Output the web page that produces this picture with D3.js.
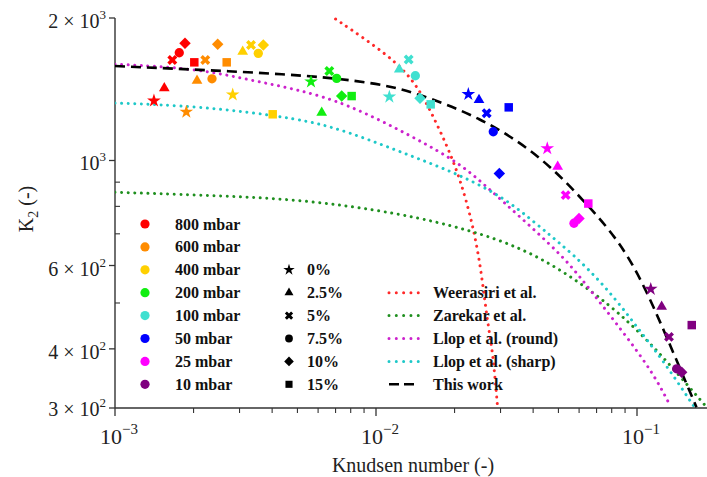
<!DOCTYPE html>
<html><head><meta charset="utf-8">
<script src="https://cdn.jsdelivr.net/npm/d3@7"></script>
<style>
html,body{margin:0;padding:0;background:#fff;}
svg{display:block;font-family:"Liberation Serif","Times New Roman",serif;}
</style></head>
<body><svg id="chart" width="707" height="477"></svg>
<script>
// ---------------- data ----------------
const pressures = ["800 mbar","600 mbar","400 mbar","200 mbar","100 mbar","50 mbar","25 mbar","10 mbar"];
const humidities = ["0%","2.5%","5%","7.5%","10%","15%"];
// each measured array is in humidity order: 0%, 2.5%, 5%, 7.5%, 10%, 15%
const kn800 = [0.001410,0.001545,0.001658,0.001763,0.001854,0.002013];
const k2_800 = [1337,1421,1630,1689,1768,1612];
const kn600 = [0.001876,0.002062,0.002218,0.002353,0.002474,0.002679];
const k2_600 = [1266,1474,1630,1488,1760,1612];
const kn400 = [0.002825,0.003085,0.003320,0.003540,0.003700,0.004020];
const k2_400 = [1377,1698,1754,1684,1754,1252];
const kn200 = [0.005637,0.006194,0.006625,0.007068,0.007387,0.008067];
const k2_200 = [1467,1262,1545,1491,1368,1368];
const kn100 = [0.01125,0.01228,0.01334,0.01415,0.01474,0.01620];
const k2_100 = [1363,1558,1635,1510,1353,1314];
const kn50 = [0.02258,0.02481,0.02655,0.02814,0.02968,0.03225];
const k2_50 = [1380,1342,1258,1150,939,1295];
const kn25 = [0.04531,0.04967,0.05330,0.05735,0.05995,0.06508];
const k2_25 = [1060,970,845,737,754,811];
const kn10 = [0.1129,0.1243,0.1326,0.1419,0.1483,0.1621];
const k2_10 = [535,491,424,363,357,449];

const curveNames = ["Weerasiri et al.","Zarekar et al.","Llop et al. (round)","Llop et al. (sharp)","This work"];
const weerasiriKn = [0.00700,0.01132,0.01432,0.01708,0.01978,0.02226,0.02487,0.02669,0.02799,0.02925];
const weerasiriK2 = [1990,1662,1455,1198,1002,824,634,456,397,300];
const zarekarKn = [0.001,0.002117,0.005113,0.01236,0.02292,0.03626,0.05378,0.07879,0.1054,0.1374,0.1822];
const zarekarK2 = [857,845,829,774,713,653,578,495,427,364,304];
const llopRoundKn = [0.001,0.002056,0.003291,0.004968,0.007722,0.0139,0.02098,0.02655,0.03562,0.0507,0.06047,0.07429,0.09131,0.1155,0.1338];
const llopRoundK2 = [1598,1565,1479,1414,1320,1122,986,880,760,636,568,491,424,355,304];
const llopSharpKn = [0.001,0.002117,0.005113,0.007722,0.0139,0.02038,0.03073,0.04175,0.0507,0.06417,0.08358,0.1027,0.1259,0.1596,0.1668];
const llopSharpK2 = [1322,1303,1227,1154,1018,939,838,730,668,596,507,436,378,311,300];
const thisWorkKn = [0.001,0.005113,0.01,0.01386,0.025,0.0425,0.06417,0.094,0.13,0.169];
const thisWorkK2 = [1583,1522,1458,1397,1237,1027,811,637,424,301];

const xMajorTicks = [0.001,0.01,0.1];
const xTickExp = ["\u22123","\u22122","\u22121"];
const yLabelTicks = [300,400,600,1000,2000];
const yTickMant = ["3 \u00d7 10","4 \u00d7 10","6 \u00d7 10","10","2 \u00d7 10"];
const yTickExp = ["2","2","2","3","3"];

// ---------------- styles ----------------
const pressureColors = ["#ff0000","#ff8c00","#ffd000","#11ee11","#40e0d0","#0000ff","#ff00ff","#800080"];
const curveColors = ["#ff2a2a","#1f8f1f","#cc22cc","#1ec8c8","#000000"];
const symbolTypes = [d3.symbolStar,d3.symbolTriangle,d3.symbolCross,d3.symbolCircle,d3.symbolSquare,d3.symbolSquare];
const symbolRot = [0,0,45,0,45,0];
const symbolSizes = [58,50,62,68,66,72];

const measured = [[kn800,k2_800],[kn600,k2_600],[kn400,k2_400],[kn200,k2_200],[kn100,k2_100],[kn50,k2_50],[kn25,k2_25],[kn10,k2_10]];
const curves = [[weerasiriKn,weerasiriK2],[zarekarKn,zarekarK2],[llopRoundKn,llopRoundK2],[llopSharpKn,llopSharpK2],[thisWorkKn,thisWorkK2]];

const svg = d3.select("#chart");
const mLeft = 115, mTop = 18, mBottom = 408, mRight = 707;
const x = d3.scaleLog().domain([1e-3,0.2]).range([mLeft, mLeft + 261*Math.log10(200)]);
const y = d3.scaleLog().domain([300,2000]).range([mBottom, mTop]);

svg.append("defs").append("clipPath").attr("id","plot")
  .append("rect").attr("x",mLeft).attr("y",mTop-2).attr("width",mRight-mLeft).attr("height",mBottom-mTop+2);

// axes
const axisColor = "#333";
svg.append("line").attr("x1",mLeft).attr("x2",mRight).attr("y1",mBottom).attr("y2",mBottom)
  .attr("stroke",axisColor).attr("stroke-width",1.4);
svg.append("line").attr("x1",mLeft).attr("x2",mLeft).attr("y1",mTop).attr("y2",mBottom)
  .attr("stroke",axisColor).attr("stroke-width",1.4);

// x ticks
const xMinor = [];
[0.001,0.01,0.1].forEach(d=>{for(let m=2;m<=9;m++){const v=d*m; if(v<=0.2) xMinor.push(v);}});
svg.selectAll(".xminor").data(xMinor).enter().append("line")
  .attr("x1",d=>x(d)).attr("x2",d=>x(d)).attr("y1",mBottom).attr("y2",mBottom+5)
  .attr("stroke",axisColor).attr("stroke-width",1.1);
svg.selectAll(".xmajor").data(xMajorTicks).enter().append("line")
  .attr("x1",d=>x(d)).attr("x2",d=>x(d)).attr("y1",mBottom).attr("y2",mBottom+8)
  .attr("stroke",axisColor).attr("stroke-width",1.3);
const xt = svg.selectAll(".xlab").data(xMajorTicks).enter().append("text")
  .attr("x",d=>x(d)+4).attr("y",mBottom+36).attr("text-anchor","middle")
  .attr("font-size",22).attr("fill","#222");
xt.append("tspan").text("10");
xt.append("tspan").attr("dy",-10).attr("font-size",15).text((d,i)=>xTickExp[i]);

// y ticks
const yMinor = [500,700,800,900];
svg.selectAll(".yminor").data(yMinor).enter().append("line")
  .attr("x1",mLeft).attr("x2",mLeft+5).attr("y1",d=>y(d)).attr("y2",d=>y(d))
  .attr("stroke",axisColor).attr("stroke-width",1.1);
svg.selectAll(".ymajor").data(yLabelTicks).enter().append("line")
  .attr("x1",mLeft-6).attr("x2",mLeft).attr("y1",d=>y(d)).attr("y2",d=>y(d))
  .attr("stroke",axisColor).attr("stroke-width",1.3);
const yt = svg.selectAll(".ylab").data(yLabelTicks).enter().append("text")
  .attr("x",mLeft-9).attr("y",(d,i)=>y(d)+(i===0?8:10)).attr("text-anchor","end")
  .attr("font-size",20).attr("fill","#222");
yt.append("tspan").text((d,i)=>yTickMant[i]);
yt.append("tspan").attr("dy",-9).attr("font-size",13).text((d,i)=>yTickExp[i]);

// axis titles
svg.append("text").attr("x",413).attr("y",472).attr("text-anchor","middle")
  .attr("font-size",20).attr("fill","#222").text("Knudsen number (-)");
const yTitle = svg.append("text").attr("transform","translate(33,209) rotate(-90)")
  .attr("text-anchor","middle").attr("font-size",20).attr("fill","#222");
yTitle.append("tspan").text("K");
yTitle.append("tspan").attr("dy",5).attr("font-size",14).text("2");
yTitle.append("tspan").attr("dy",-5).text(" (-)");

// model curves
const line = d3.line().x(d=>x(d[0])).y(d=>y(d[1])).curve(d3.curveBasis);
const gCurves = svg.append("g").attr("clip-path","url(#plot)");
curves.forEach((c,i)=>{
  const pts = c[0].map((k,j)=>[k,c[1][j]]);
  const p = gCurves.append("path").attr("d",line(pts)).attr("fill","none")
    .attr("stroke",curveColors[i]).attr("stroke-linecap","round");
  if(i===4){ p.attr("stroke-width",2.6).attr("stroke-dasharray","10 6").attr("stroke-linecap","butt"); }
  else { p.attr("stroke-width",3).attr("stroke-dasharray","0.01 6.6"); }
});

// measured points
const gPts = svg.append("g");
measured.forEach((m,pi)=>{
  m[0].forEach((k,hi)=>{
    gPts.append("path")
      .attr("d",d3.symbol().type(symbolTypes[hi]).size(symbolSizes[hi])())
      .attr("transform",`translate(${x(k)},${y(m[1][hi])}) rotate(${symbolRot[hi]})`)
      .attr("fill",pressureColors[pi]);
  });
});

// legends
const rowY = i => 224 + 22.9*i;
const leg = svg.append("g").attr("font-weight","bold").attr("font-size",16).attr("fill","#111");
pressures.forEach((p,i)=>{
  leg.append("circle").attr("cx",145).attr("cy",rowY(i)).attr("r",4.6).attr("fill",pressureColors[i]);
  leg.append("text").attr("x",175).attr("y",rowY(i)+5.5).text(p);
});
humidities.forEach((h,i)=>{
  leg.append("path").attr("d",d3.symbol().type(symbolTypes[i]).size(symbolSizes[i]*0.7)())
    .attr("transform",`translate(289,${rowY(i+2)}) rotate(${symbolRot[i]})`).attr("fill","#000");
  leg.append("text").attr("x",307).attr("y",rowY(i+2)+5.5).text(h);
});
curveNames.forEach((n,i)=>{
  const ly = rowY(i+3);
  const l = leg.append("line").attr("x1",389).attr("x2",419).attr("y1",ly).attr("y2",ly)
    .attr("stroke",curveColors[i]);
  if(i===4) l.attr("stroke-width",2.6).attr("stroke-dasharray","10 5");
  else l.attr("stroke-width",3).attr("stroke-linecap","round").attr("stroke-dasharray","0.01 7.3");
  leg.append("text").attr("x",433).attr("y",ly+5.5).text(n);
});
</script></body></html>
